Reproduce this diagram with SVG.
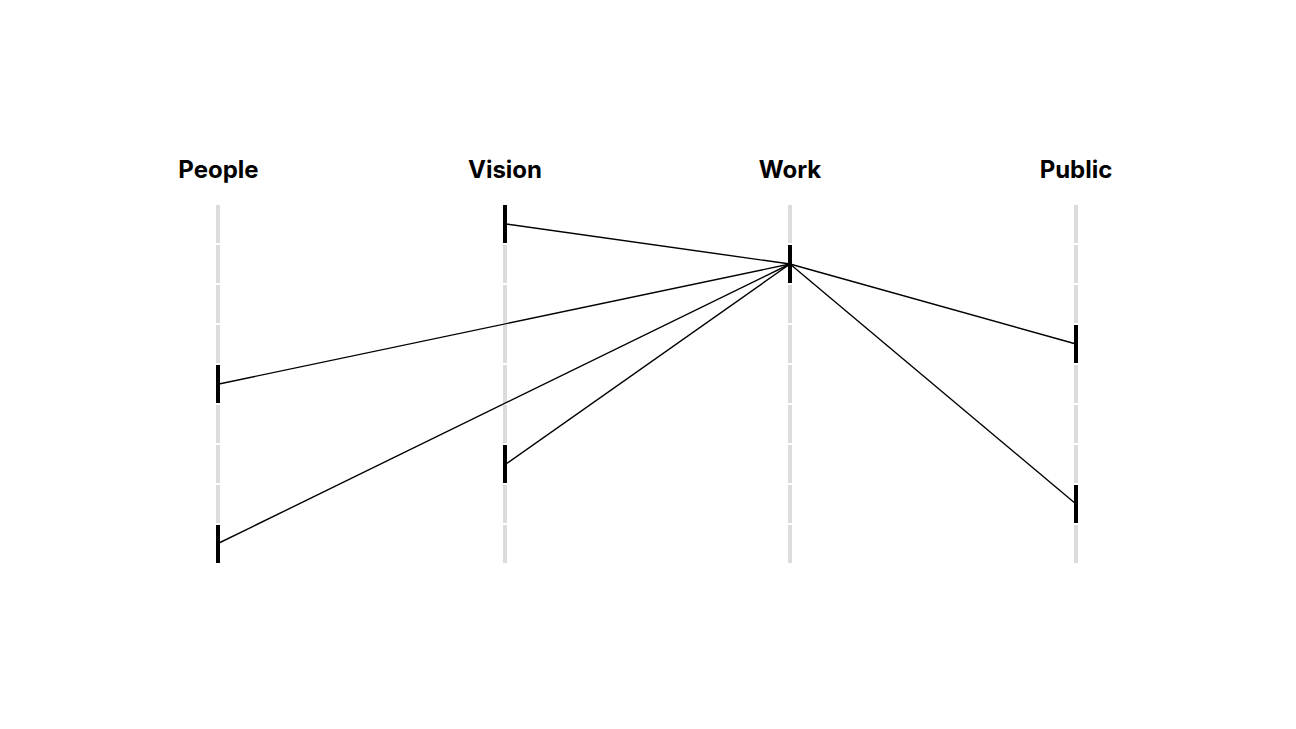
<svg xmlns="http://www.w3.org/2000/svg" width="1296" height="729" viewBox="0 0 1296 729">
<defs>
<style>
.lbl{font-family:Inter,"Liberation Sans",sans-serif;font-weight:700;font-size:24px;fill:#000;text-anchor:middle}
.axis{stroke:#dcdcdc;stroke-width:4;stroke-dasharray:38 2;fill:none}
.mark{fill:#000}
.conn{stroke:#000;stroke-width:1.4;fill:none}
</style>
</defs>
<rect width="1296" height="729" fill="#fff"/>
<g id="column-people">
<text class="lbl" x="218.5" y="178">People</text>
<line class="axis" x1="218" y1="205" x2="218" y2="565"/>
</g>
<g id="column-vision">
<text class="lbl" x="505" y="178">Vision</text>
<line class="axis" x1="505" y1="205" x2="505" y2="565"/>
</g>
<g id="column-work">
<text class="lbl" x="790" y="178">Work</text>
<line class="axis" x1="790" y1="205" x2="790" y2="565"/>
</g>
<g id="column-public">
<text class="lbl" x="1076" y="178">Public</text>
<line class="axis" x1="1076" y1="205" x2="1076" y2="565"/>
</g>
<g id="connectors">
<line class="conn" x1="506" y1="224" x2="790" y2="264"/>
<line class="conn" x1="219" y1="384" x2="790" y2="264"/>
<line class="conn" x1="219" y1="543" x2="790" y2="264"/>
<line class="conn" x1="506" y1="464" x2="790" y2="264"/>
<line class="conn" x1="790" y1="264" x2="1076" y2="344"/>
<line class="conn" x1="790" y1="264" x2="1076" y2="504"/>
</g>
<g id="node-vision-1"><rect class="mark" x="503" y="205" width="4" height="38"/></g>
<g id="node-work-1"><rect class="mark" x="788" y="245" width="4" height="38"/></g>
<g id="node-public-1"><rect class="mark" x="1074" y="325" width="4" height="38"/></g>
<g id="node-people-1"><rect class="mark" x="216" y="365" width="4" height="38"/></g>
<g id="node-vision-2"><rect class="mark" x="503" y="445" width="4" height="38"/></g>
<g id="node-public-2"><rect class="mark" x="1074" y="485" width="4" height="38"/></g>
<g id="node-people-2"><rect class="mark" x="216" y="525" width="4" height="38"/></g>
</svg>
